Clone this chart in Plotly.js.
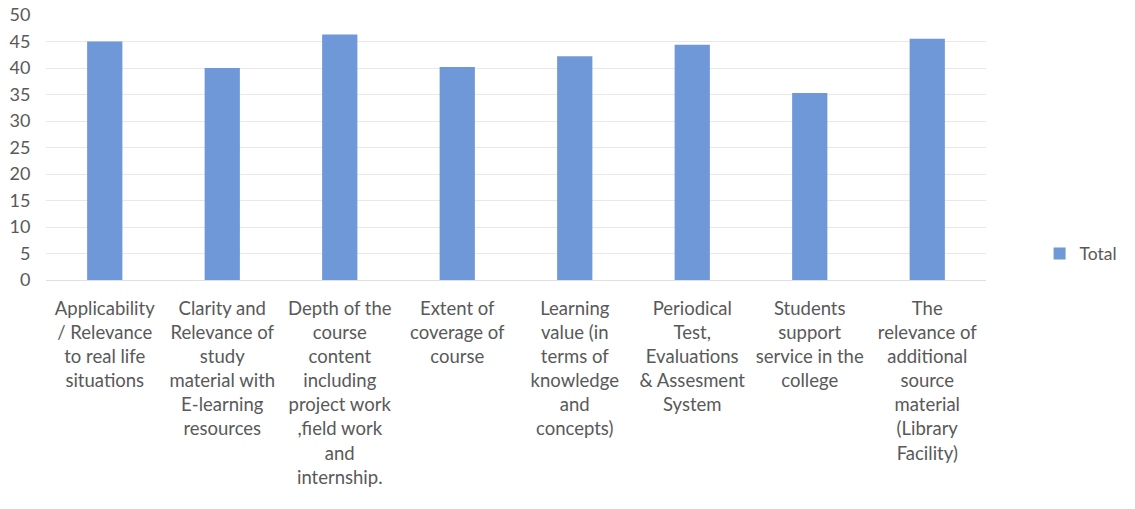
<!DOCTYPE html>
<html>
<head>
<meta charset="utf-8">
<script src="https://cdn.plot.ly/plotly-3.0.1.min.js"></script>
<style>html,body{margin:0;padding:0;background:#fff;}#chart{width:1135px;height:509px;}</style>
</head>
<body>
<div id="chart"></div>
<script>
const categories = [
  "Applicability<br>/ Relevance<br>to real life<br>situations",
  "Clarity and<br>Relevance of<br>study<br>material with<br>E-learning<br>resources",
  "Depth of the<br>course<br>content<br>including<br>project work<br>,field work<br>and<br>internship.",
  "Extent of<br>coverage of<br>course",
  "Learning<br>value (in<br>terms of<br>knowledge<br>and<br>concepts)",
  "Periodical<br>Test,<br>Evaluations<br>& Assesment<br>System",
  "Students<br>support<br>service in the<br>college",
  "The<br>relevance of<br>additional<br>source<br>material<br>(Library<br>Facility)"
];
const totals = [45, 40, 46.3, 40.2, 42.2, 44.4, 35.3, 45.5];
const yTicks = [0, 5, 10, 15, 20, 25, 30, 35, 40, 45, 50];

const fontFam = "Lato, 'Open Sans', sans-serif";
const textCol = "#595959";

Plotly.newPlot("chart", [{
  type: "bar",
  name: "Total",
  x: categories,
  y: totals,
  marker: {color: "#6f98d9"},
  hoverinfo: "y"
}], {
  width: 1135,
  height: 509,
  margin: {l: 46, r: 146, t: 15, b: 229},
  paper_bgcolor: "#ffffff",
  plot_bgcolor: "#ffffff",
  bargap: 0.7,
  showlegend: true,
  legend: {
    x: 1.057, y: 0.1, xanchor: "left", yanchor: "middle",
    font: {family: fontFam, size: 17.5, color: textCol},
    itemwidth: 30,
    borderwidth: 0
  },
  xaxis: {
    type: "category",
    tickfont: {family: fontFam, size: 18.5, color: textCol},
    tickangle: 0,
    showgrid: false,
    showline: false,
    ticks: "outside", ticklen: 12, tickcolor: "rgba(0,0,0,0)",
    automargin: false
  },
  yaxis: {
    range: [0, 50],
    tickvals: yTicks,
    ticktext: yTicks.map(String),
    tickfont: {family: fontFam, size: 18, color: textCol},
    gridcolor: "#e8e8e8",
    gridwidth: 1,
    zeroline: true,
    zerolinecolor: "#e0e0e0",
    showline: false,
    ticks: "outside", ticklen: 11, tickcolor: "rgba(0,0,0,0)",
    automargin: false
  }
}, {displayModeBar: false, staticPlot: true});
</script>
</body>
</html>
